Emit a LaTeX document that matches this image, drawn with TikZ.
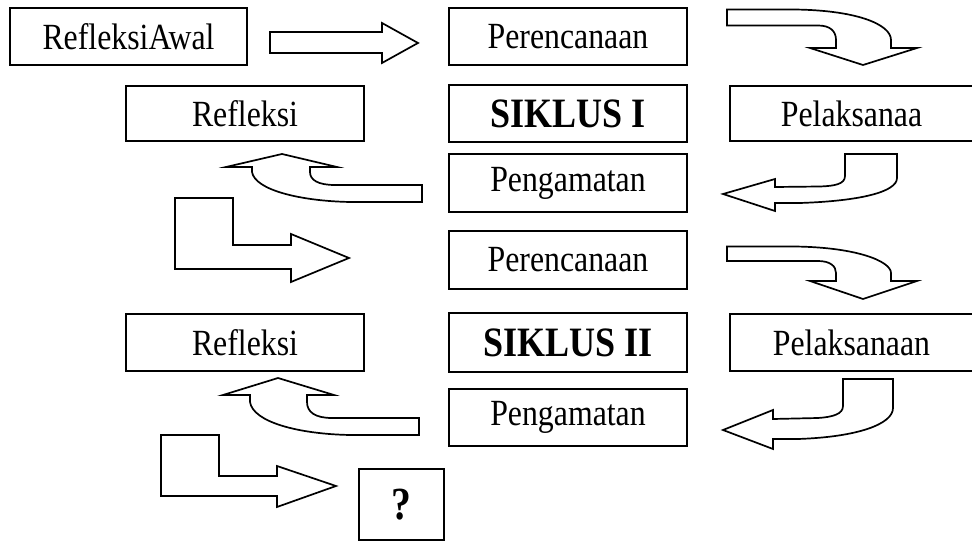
\documentclass[tikz,border=0pt]{standalone}
\usepackage{fontspec}
\setmainfont{Liberation Serif}[FakeStretch=0.862]
\usepackage{tikz}
\usetikzlibrary{positioning}

\tikzset{
  box/.style={draw, line width=2pt, minimum width=238pt, minimum height=57pt, inner sep=0pt, font=\fontsize{36.9}{42}\selectfont},
  cyclebox/.style={box, font=\fontsize{41.8}{48}\selectfont\bfseries},
  blockarrow/.style={draw, line width=1.7pt, line join=miter}
}

\begin{document}
\begin{tikzpicture}[x=1pt, y=-1pt]
\useasboundingbox (0,0) rectangle (972,545);

% Middle column
\node[box] (ren1) at (568,37) {Perencanaan};
\node[cyclebox] (sik1) at (568,113.5) {SIKLUS I};
\node[box, minimum height=58pt] (amt1) at (568,183) {Pengamatan};
\node[box, minimum height=58pt] (ren2) at (568,260) {Perencanaan};
\node[cyclebox, minimum height=59pt] (sik2) at (568,342.5) {SIKLUS II};
\node[box] (amt2) at (568,417.5) {Pengamatan};

% Side boxes
\node[box, minimum width=237pt, left=200pt of ren1] (awal) {RefleksiAwal};
\node[box, minimum height=55pt, left=83pt of sik1] (ref1) {Refleksi};
\node[box, minimum height=55pt, minimum width=243pt, right=41pt of sik1] (pel1) {Pelaksanaa};
\node[box, left=83pt of sik2] (ref2) {Refleksi};
\node[box, minimum width=243pt, right=41pt of sik2] (pel2) {Pelaksanaan};
\node[cyclebox, font=\fontsize{46}{52}\selectfont\bfseries, minimum width=85pt, minimum height=71pt] (tanya) at (401.5,504.5) {?};

% Cycle I
\draw[blockarrow] (270,32) -- (382,32) -- (382,23) -- (418,43) -- (382,63) -- (382,53) -- (270,53) -- cycle;
\draw[blockarrow] (727,9.5) -- (790,9.5) .. controls (855,9.5) and (891,24) .. (891,40) -- (891,48) -- (917,48) -- (863,65) -- (810,48) -- (836,48) -- (836,40) .. controls (836,31) and (830,25.5) .. (818,25.5) -- (727,25.5) -- cycle;
\draw[blockarrow] (845,154) -- (845,176) .. controls (845,184) and (835,186) .. (820,186.5) -- (775,187) -- (775,179) -- (723,194) -- (775,211) -- (775,203) -- (800,203) .. controls (860,201) and (897,192) .. (897,178) -- (897,154) -- cycle;
\draw[blockarrow] (422,185) -- (335,185) .. controls (318,185) and (310,180) .. (310,172) -- (310,167) -- (337,167) -- (282,154) -- (226,167) -- (252,167) -- (252,172) .. controls (255,190) and (300,201) .. (350,202) -- (422,202) -- cycle;
\draw[blockarrow] (175,198) -- (233,198) -- (233,245) -- (291,245) -- (291,234) -- (349,258) -- (291,282) -- (291,269) -- (175,269) -- cycle;

% Cycle II
\draw[blockarrow] (727,246.5) -- (790,246.5) .. controls (855,246.5) and (891,261) .. (891,273) -- (891,281) -- (917,281) -- (863,299) -- (810,281) -- (836,281) -- (836,273) .. controls (836,266) and (830,261) .. (818,261) -- (727,261) -- cycle;
\draw[blockarrow] (843,379) -- (843,406) .. controls (843,414) and (833,417) .. (818,418) -- (773,419) -- (773,410) -- (723,430) -- (773,449) -- (773,439) -- (798,439) .. controls (858,437) and (893,424) .. (893,408) -- (893,379) -- cycle;
\draw[blockarrow] (419,418) -- (332,418) .. controls (315,418) and (307,412) .. (307,402) -- (307,395) -- (334,395) -- (278,378) -- (223,395) -- (250,395) -- (250,402) .. controls (253,422) and (298,434) .. (350,435) -- (419,435) -- cycle;
\draw[blockarrow] (161,435) -- (219,435) -- (219,476) -- (277,476) -- (277,466) -- (336,486) -- (277,507) -- (277,496) -- (161,496) -- cycle;
\end{tikzpicture}
\end{document}
